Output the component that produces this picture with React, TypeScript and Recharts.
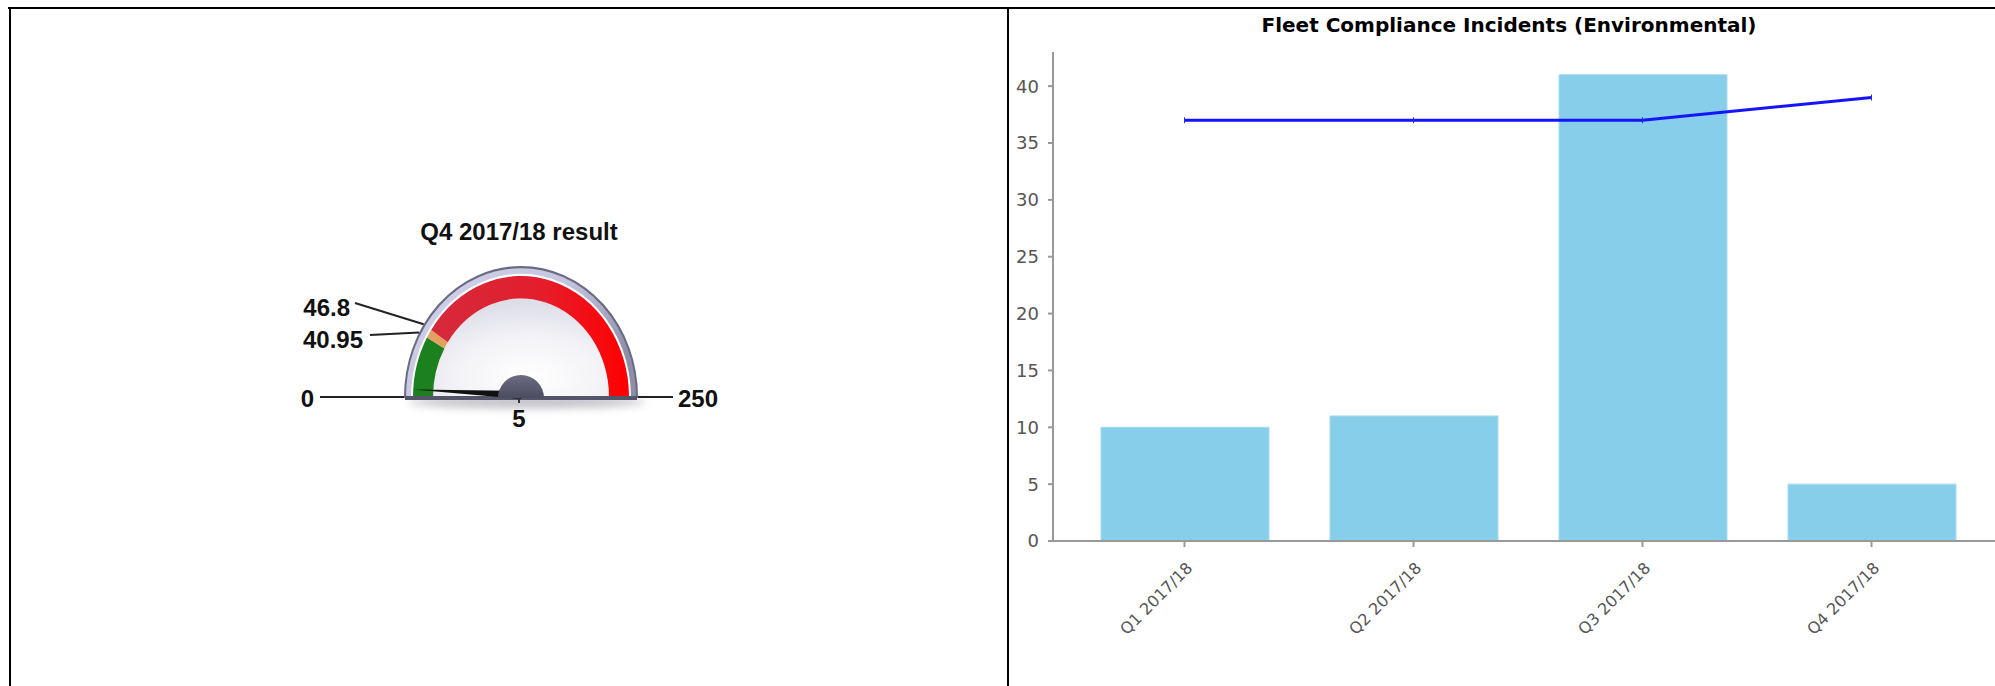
import React from 'react';
import { ComposedChart, Bar, Line, XAxis, YAxis, PieChart, Pie, Cell } from 'recharts';

// ---- Right chart data ----
const chartTitle = 'Fleet Compliance Incidents (Environmental)';
const categories = ['Q1 2017/18', 'Q2 2017/18', 'Q3 2017/18', 'Q4 2017/18'];
const incidents = [10, 11, 41, 5];
const target = [37, 37, 37, 39];
const yTicks = [0, 5, 10, 15, 20, 25, 30, 35, 40];

// ---- Gauge data ----
const gaugeTitle = 'Q4 2017/18 result';
const gaugeMin = 0;
const gaugeMax = 250;
const gaugeThresholds = [40.95, 46.8];
const gaugeValue = 5;
const bandFills = ['#1c801f', '#e2a25e', 'url(#redGrad)'];

const barData = categories.map((name, i) => ({ name, incidents: incidents[i], target: target[i] }));
const bounds = [gaugeMin, ...gaugeThresholds, gaugeMax];
const bandData = bounds.slice(1).map((b, i) => ({ name: 'band' + i, value: b - bounds[i] }));
const single = [{ name: 'one', value: 1 }];

// gauge geometry
const G_LEFT = 321;
const G_TOP = 150;
const CX = 521;
const CY = 397;
const SY = 1.12; // vertical stretch of the dial
const START = 180;
const END = 0;

const angleOf = (v: number) => START - ((v - gaugeMin) / (gaugeMax - gaugeMin)) * (START - END);
const pointAt = (r: number, v: number) => {
  const a = (angleOf(v) * Math.PI) / 180;
  return { x: CX + r * Math.cos(a), y: CY - r * Math.sin(a) * SY };
};

const XTick = (props: any) => {
  const { x, y, payload } = props;
  const ax = x + 9;
  const ay = y + 20;
  return (
    <text
      x={ax}
      y={ay}
      textAnchor="end"
      fill="#555"
      fontSize={16}
      fontFamily="DejaVu Sans"
      transform={`rotate(-45, ${ax}, ${ay})`}
    >
      {payload.value}
    </text>
  );
};

const LineDot = (props: any) => {
  const { cx, cy } = props;
  if (cx == null || cy == null) return null;
  return <line x1={cx} y1={cy - 3} x2={cx} y2={cy + 3} stroke="#3030c0" strokeWidth={1} />;
};

export default function App() {
  const needleTip = pointAt(108, gaugeValue);
  const a = (angleOf(gaugeValue) * Math.PI) / 180;
  const px = Math.sin(a) * 4;
  const py = Math.cos(a) * 4;
  const p409 = pointAt(117, gaugeThresholds[0]);
  const p468 = pointAt(117, gaugeThresholds[1]);
  const font = 'Liberation Sans, Arial, sans-serif';
  const pcx = CX - G_LEFT;
  const pcy = CY - G_TOP;

  return (
    <div style={{ position: 'absolute', left: 0, top: 0, width: 1995, height: 686, overflow: 'hidden', background: '#fff' }}>
      <svg width={0} height={0} style={{ position: 'absolute' }}>
        <defs>
          <linearGradient id="redGrad" x1="0" y1="0" x2="1" y2="0">
            <stop offset="0%" stopColor="#d42a3c" />
            <stop offset="55%" stopColor="#e41e2c" />
            <stop offset="100%" stopColor="#ff0000" />
          </linearGradient>
          <linearGradient id="bezelGrad" x1="0" y1="0" x2="1" y2="0.6">
            <stop offset="0%" stopColor="#d2d2ec" />
            <stop offset="55%" stopColor="#c6c6de" />
            <stop offset="100%" stopColor="#8e8ea8" />
          </linearGradient>
          <radialGradient id="faceGrad" cx="0.55" cy="0.8" r="0.75">
            <stop offset="0%" stopColor="#ffffff" />
            <stop offset="55%" stopColor="#f3f3f7" />
            <stop offset="100%" stopColor="#dedee8" />
          </radialGradient>
          <linearGradient id="hubGrad" x1="0" y1="0" x2="0" y2="1">
            <stop offset="0%" stopColor="#6c6c82" />
            <stop offset="100%" stopColor="#4c4c60" />
          </linearGradient>
          <filter id="shadowBlur" x="-20%" y="-200%" width="140%" height="500%">
            <feGaussianBlur stdDeviation="4" />
          </filter>
        </defs>
      </svg>

      {/* Gauge shadow */}
      <svg width={1995} height={686} style={{ position: 'absolute', left: 0, top: 0 }}>
        <ellipse cx={CX + 6} cy={CY + 5} rx={118} ry={6} fill="#8a8a98" opacity={0.55} filter="url(#shadowBlur)" />
      </svg>

      {/* Gauge built with Pie sectors */}
      <div
        style={{
          position: 'absolute',
          left: G_LEFT,
          top: G_TOP,
          transform: `scaleY(${SY})`,
          transformOrigin: `${pcx}px ${pcy}px`,
        }}
      >
        <PieChart width={400} height={300} margin={{ top: 0, right: 0, bottom: 0, left: 0 }}>
          <Pie
            data={single}
            dataKey="value"
            cx={pcx}
            cy={pcy}
            startAngle={180}
            endAngle={0}
            innerRadius={0}
            outerRadius={116}
            fill="url(#bezelGrad)"
            stroke="#6a6a84"
            strokeWidth={2}
            isAnimationActive={false}
          />
          <Pie
            data={single}
            dataKey="value"
            cx={pcx}
            cy={pcy}
            startAngle={180}
            endAngle={0}
            innerRadius={0}
            outerRadius={110}
            fill="#ffffff"
            stroke="none"
            isAnimationActive={false}
          />
          <Pie
            data={single}
            dataKey="value"
            cx={pcx}
            cy={pcy}
            startAngle={180}
            endAngle={0}
            innerRadius={0}
            outerRadius={88}
            fill="url(#faceGrad)"
            stroke="none"
            isAnimationActive={false}
          />
          <Pie
            data={bandData}
            dataKey="value"
            cx={pcx}
            cy={pcy}
            startAngle={START}
            endAngle={END}
            innerRadius={88}
            outerRadius={108}
            stroke="none"
            isAnimationActive={false}
          >
            {bandData.map((d, i) => (
              <Cell key={d.name} fill={bandFills[i]} />
            ))}
          </Pie>
        </PieChart>
      </div>

      {/* Bar + line chart */}
      <div style={{ position: 'absolute', left: 1009, top: 9 }}>
        <ComposedChart width={1000} height={632} data={barData} margin={{ top: 43, right: 0, bottom: 0, left: 0 }}>
          <XAxis
            dataKey="name"
            interval={0}
            height={100}
            padding={{ left: 17, right: 23 }}
            tick={<XTick />}
            tickSize={6}
            tickLine={{ stroke: '#999', strokeWidth: 2 }}
            axisLine={{ stroke: '#999', strokeWidth: 2 }}
          />
          <YAxis
            domain={[0, 43]}
            ticks={yTicks}
            width={44}
            tickSize={5}
            tickMargin={9}
            interval={0}
            tick={{ fill: '#555', fontSize: 18, fontFamily: 'DejaVu Sans' }}
            tickLine={{ stroke: '#999', strokeWidth: 2 }}
            axisLine={{ stroke: '#999', strokeWidth: 2 }}
          />
          <Bar dataKey="incidents" fill="#87ceeb" stroke="#a6dbf0" strokeWidth={1} barSize={168} isAnimationActive={false} />
          <Line
            dataKey="target"
            type="linear"
            stroke="#1414ff"
            strokeWidth={3}
            dot={<LineDot />}
            activeDot={false}
            isAnimationActive={false}
          />
        </ComposedChart>
      </div>

      {/* Overlay: borders, titles, gauge details */}
      <svg width={1995} height={686} style={{ position: 'absolute', left: 0, top: 0, pointerEvents: 'none' }}>
        <rect x={8} y={7} width={1987} height={2} fill="#000" />
        <rect x={9} y={7} width={2} height={679} fill="#000" />
        <rect x={1007} y={7} width={2} height={679} fill="#000" />

        <text x={1509} y={32} textAnchor="middle" fontFamily="DejaVu Sans" fontWeight="bold" fontSize={20} fill="#000">
          {chartTitle}
        </text>

        {/* gauge base, needle and hub */}
        <line x1={CX - 116} y1={CY + 1} x2={CX + 116} y2={CY + 1} stroke="#55556a" strokeWidth={4} />
        <polygon
          points={`${needleTip.x},${needleTip.y} ${CX + px},${CY - 2 + py} ${CX - px},${CY - 2 - py}`}
          fill="#111"
        />
        <path d={`M ${CX - 23} ${CY + 1} A 23 23 0 0 1 ${CX + 23} ${CY + 1} Z`} fill="url(#hubGrad)" />
        <line x1={CX - 2} y1={CY + 1} x2={CX - 2} y2={CY + 6} stroke="#333" strokeWidth={2} />

        {/* leader lines */}
        <line x1={320} y1={CY} x2={CX - 117} y2={CY} stroke="#222" strokeWidth={2} />
        <line x1={CX + 117} y1={CY} x2={673} y2={CY} stroke="#222" strokeWidth={2} />
        <line x1={370} y1={335} x2={p409.x} y2={p409.y} stroke="#222" strokeWidth={2} />
        <line x1={355} y1={303} x2={p468.x} y2={p468.y} stroke="#222" strokeWidth={2} />

        {/* gauge labels */}
        <text x={519} y={240} textAnchor="middle" fontFamily={font} fontWeight="bold" fontSize={24} fill="#111">
          {gaugeTitle}
        </text>
        <text x={314} y={407} textAnchor="end" fontFamily={font} fontWeight="bold" fontSize={24} fill="#111">
          {String(gaugeMin)}
        </text>
        <text x={678} y={407} textAnchor="start" fontFamily={font} fontWeight="bold" fontSize={24} fill="#111">
          {String(gaugeMax)}
        </text>
        <text x={519} y={427} textAnchor="middle" fontFamily={font} fontWeight="bold" fontSize={24} fill="#111">
          {String(gaugeValue)}
        </text>
        <text x={363} y={348} textAnchor="end" fontFamily={font} fontWeight="bold" fontSize={24} fill="#111">
          {String(gaugeThresholds[0])}
        </text>
        <text x={350} y={316} textAnchor="end" fontFamily={font} fontWeight="bold" fontSize={24} fill="#111">
          {String(gaugeThresholds[1])}
        </text>
      </svg>
    </div>
  );
}
